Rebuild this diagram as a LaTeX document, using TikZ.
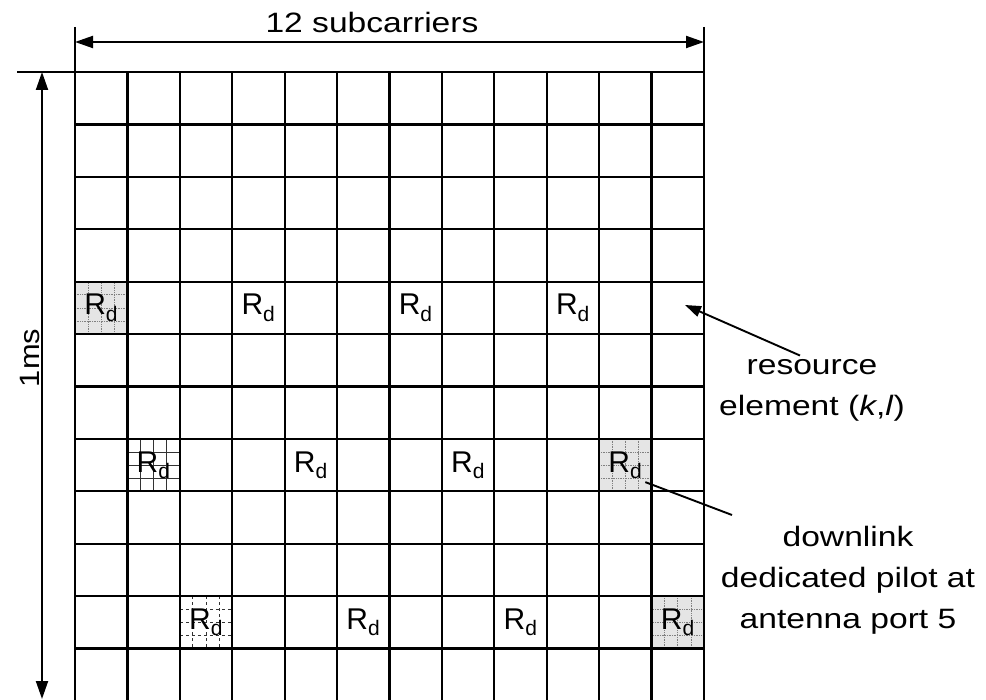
\documentclass[tikz,border=0pt]{standalone}
\usepackage{fontspec}
\setmainfont{Liberation Sans}
\usetikzlibrary{arrows.meta}

\def\cw{52.417}
\newcommand{\Rd}{R\textsubscript{d}}
\newcommand{\wtxt}[1]{\scalebox{1.2}[1]{#1}}

\begin{document}
\begin{tikzpicture}[x=1pt,y=-1pt,
		gridline/.style={line width=2.2pt},
		extline/.style={line width=1.9pt},
		dimline/.style={line width=2pt,{Triangle[length=18pt,width=12pt]}-{Triangle[length=18pt,width=12pt]}},
		pointer/.style={line width=1.9pt,-{Triangle[length=16pt,width=11pt]}},
		hatch/.style={black!80,line width=1pt},
		dots/.style={gray,densely dotted,line width=0.7pt},
		rd/.style={minimum size=\cw pt,inner sep=0pt,font=\fontsize{30}{30}\selectfont},
		lbl/.style={align=center,font=\fontsize{28}{41}\selectfont}
	]
	\useasboundingbox (0,0) rectangle (986,700);

	% shaded pilot cells
	\foreach \r/\c in {4/0,7/10,10/11}{
			\fill[gray!20] ({75+\c*\cw},{72+\r*\cw}) rectangle ++(\cw,\cw);
			\foreach \i in {1,2,3}{
					\draw[dots] ({75+(\c+\i/4)*\cw},{72+\r*\cw}) -- ++(0,\cw);
					\draw[dots] ({75+\c*\cw},{72+(\r+\i/4)*\cw}) -- ++(\cw,0);
				}
		}
	% hatched pilot cells
	\foreach \r/\c/\ls in {7/1/solid,10/2/dashed}{
			\foreach \i in {1,2,3}{
					\draw[hatch,\ls] ({75+(\c+\i/4)*\cw},{72+\r*\cw}) -- ++(0,\cw);
					\draw[hatch,\ls] ({75+\c*\cw},{72+(\r+\i/4)*\cw}) -- ++(\cw,0);
				}
		}

	% resource grid
	\foreach \i in {0,...,12}{
			\draw[gridline] ({75+\i*\cw},72) -- ({75+\i*\cw},703);
		}
	\foreach \i in {0,...,11}{
			\draw[gridline] (75,{72+\i*\cw}) -- (704,{72+\i*\cw});
		}

	% dimension lines
	\coordinate (topL) at (75,27);
	\coordinate (topR) at (704,27);
	\coordinate (sideT) at (17,72);
	\coordinate (gridNW) at (75,72);
	\coordinate (gridNE) at (704,72);
	\draw[extline] (topL) -- (gridNW);
	\draw[extline] (topR) -- (gridNE);
	\draw[extline] (sideT) -- (gridNW);
	\coordinate (subL) at (75,42);
	\coordinate (subR) at (704,42);
	\coordinate (msT) at (42,72);
	\coordinate (msB) at (42,699);
	\draw[dimline] (subL) -- (subR);
	\draw[dimline] (msT) -- (msB);

	\node[lbl,anchor=base] (subc) at (372,33) {\wtxt{12 subcarriers}};
	\node[lbl,rotate=90] (ms) at (30,358) {\scalebox{1.1}[1]{1ms}};

	% pilots
	\foreach \r/\c in {4/0,7/1,10/2}{
			\foreach \k in {0,3,6,9}{
					\pgfmathtruncatemacro\col{\c+\k}
					\node[rd] (rd\r-\col) at ({75+(\col+0.5)*\cw},{72+(\r+0.5)*\cw}) {\Rd};
				}
		}

	% annotations
	\node[lbl] (res) at (812,390) {\wtxt{resource}\\\wtxt{element (\textit{k},\textit{l})}};
	\node[lbl] (pil) at (848,580) {\wtxt{downlink}\\\wtxt{dedicated pilot at}\\\wtxt{antenna port 5}};
	\coordinate (re) at (685,305);
	\draw[pointer] ([xshift=-12pt]res.north) -- (re);
	\coordinate (dlend) at (732,515);
	\draw[extline] ([shift={(20,17)}]rd7-10.center) -- (dlend);
\end{tikzpicture}
\end{document}
